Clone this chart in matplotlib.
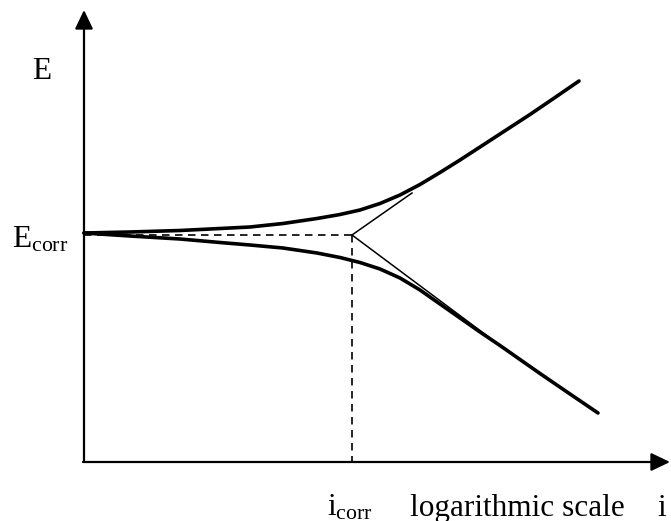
import matplotlib
matplotlib.use("Agg")
import matplotlib.pyplot as plt

plt.rcParams['font.family'] = ['Liberation Serif', 'DejaVu Serif']
plt.rcParams['mathtext.fontset'] = 'custom'
plt.rcParams['mathtext.rm'] = 'Liberation Serif'
plt.rcParams['mathtext.it'] = 'Liberation Serif:italic'

# ---- data (arbitrary units: x = log i, y = potential E) ----
ecorr = 4.54
log_icorr = 5.36

anodic_logi = [0.00, 0.92, 1.92, 2.72, 3.32, 3.98, 4.66, 5.12, 5.52, 5.92,
               6.32, 6.72, 7.12, 7.52, 7.92, 8.32, 8.92, 9.42, 9.90]
anodic_E = [4.58, 4.60, 4.63, 4.67, 4.70, 4.77, 4.87, 4.95, 5.04, 5.17,
            5.34, 5.55, 5.79, 6.04, 6.30, 6.56, 6.95, 7.29, 7.62]

cathodic_logi = [0.00, 0.92, 1.92, 2.72, 3.32, 3.98, 4.66, 5.12, 5.52, 5.92,
                 6.32, 6.72, 7.12, 7.52, 7.92, 8.32, 9.12, 9.72, 10.28]
cathodic_E = [4.58, 4.52, 4.46, 4.39, 4.34, 4.28, 4.18, 4.09, 3.99, 3.86,
              3.68, 3.44, 3.16, 2.88, 2.60, 2.33, 1.77, 1.36, 0.98]

# Tafel extrapolation lines (from the corrosion point)
tafel_anodic_logi = [log_icorr, 6.56]
tafel_anodic_E = [ecorr, 5.38]
tafel_cathodic_logi = [log_icorr, 8.12]
tafel_cathodic_E = [ecorr, 2.48]

fig = plt.figure(figsize=(6.71, 5.21), dpi=100)
ax = fig.add_axes([0, 0, 1, 1])
ax.set_xlim(-1.68, 11.74)
ax.set_ylim(-1.18, 9.24)
ax.axis('off')

# axes with arrows
axis_arrow = dict(arrowstyle='-|>,head_length=1.15,head_width=0.55',
                  mutation_scale=10, lw=1.6, color='black',
                  shrinkA=0, shrinkB=0)
ax.annotate('', xy=(0, 9.04), xytext=(0, 0), arrowprops=axis_arrow)
ax.annotate('', xy=(11.72, 0), xytext=(-0.02, 0), arrowprops=axis_arrow)

# dashed guide lines
ax.plot([0, log_icorr], [ecorr, ecorr], color='black', lw=1.2,
        dashes=(4.5, 3.3))
ax.plot([log_icorr, log_icorr], [ecorr, 0], color='black', lw=1.2,
        dashes=(4.5, 3.3))

# Tafel lines (thin)
ax.plot(tafel_anodic_logi, tafel_anodic_E, color='black', lw=1.1)
ax.plot(tafel_cathodic_logi, tafel_cathodic_E, color='black', lw=1.1)

# polarization curves (thick)
ax.plot(anodic_logi, anodic_E, color='black', lw=2.6,
        solid_capstyle='round', solid_joinstyle='round')
ax.plot(cathodic_logi, cathodic_E, color='black', lw=2.6,
        solid_capstyle='round', solid_joinstyle='round')

fs = 22.5
ax.text(-1.04, 7.66, 'E', fontsize=fs, ha='left', va='baseline')
ax.text(-1.44, 4.28, r'$\mathrm{E}_{\mathrm{corr}}$', fontsize=fs,
        ha='left', va='baseline')
ax.text(4.86, -1.08, r'$\mathrm{i}_{\mathrm{corr}}$', fontsize=fs,
        ha='left', va='baseline')
ax.text(6.52, -1.08, 'logarithmic scale', fontsize=fs, ha='left',
        va='baseline')
ax.text(11.46, -1.08, 'i', fontsize=fs, ha='left', va='baseline')

fig.savefig('out.png', dpi=100)
